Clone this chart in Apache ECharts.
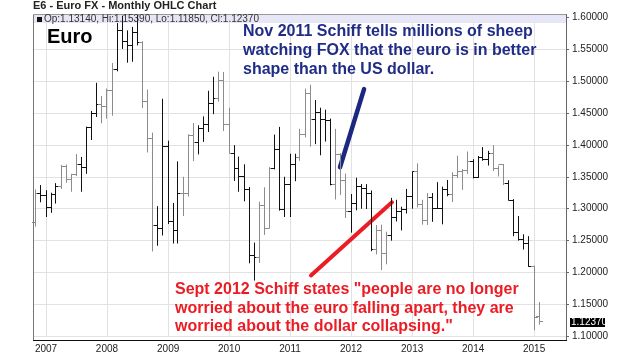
<!DOCTYPE html>
<html>
<head>
<meta charset="utf-8">
<script src="https://cdn.jsdelivr.net/npm/echarts@6/dist/echarts.min.js"></script>
<style>
html,body{margin:0;padding:0;background:#fff;}
#chart{width:636px;height:359px;}
</style>
</head>
<body>
<div id="chart"></div>
<script>
// ---- data ----
const months = [
  '2006-11','2006-12',
  '2007-01','2007-02','2007-03','2007-04','2007-05','2007-06','2007-07','2007-08','2007-09','2007-10','2007-11','2007-12',
  '2008-01','2008-02','2008-03','2008-04','2008-05','2008-06','2008-07','2008-08','2008-09','2008-10','2008-11','2008-12',
  '2009-01','2009-02','2009-03','2009-04','2009-05','2009-06','2009-07','2009-08','2009-09','2009-10','2009-11','2009-12',
  '2010-01','2010-02','2010-03','2010-04','2010-05','2010-06','2010-07','2010-08','2010-09','2010-10','2010-11','2010-12',
  '2011-01','2011-02','2011-03','2011-04','2011-05','2011-06','2011-07','2011-08','2011-09','2011-10','2011-11','2011-12',
  '2012-01','2012-02','2012-03','2012-04','2012-05','2012-06','2012-07','2012-08','2012-09','2012-10','2012-11','2012-12',
  '2013-01','2013-02','2013-03','2013-04','2013-05','2013-06','2013-07','2013-08','2013-09','2013-10','2013-11','2013-12',
  '2014-01','2014-02','2014-03','2014-04','2014-05','2014-06','2014-07','2014-08','2014-09','2014-10','2014-11','2014-12',
  '2015-01','2015-02'
];
const openVals = [
  1.2780,1.3235,
  1.3200,1.3025,1.3230,1.3355,1.3655,1.3455,1.3530,1.3685,1.3640,1.4270,1.4490,1.4630,
  1.4595,1.4845,1.5185,1.5785,1.5615,1.5550,1.5755,1.5605,1.4675,1.4095,1.2730,1.2695,
  1.3970,1.2805,1.2665,1.3245,1.3240,1.4150,1.4035,1.4250,1.4325,1.4640,1.4725,1.5010,
  1.4320,1.3865,1.3625,1.3510,1.3295,1.2270,1.2235,1.3050,1.2690,1.3625,1.3925,1.2980,
  1.3380,1.3690,1.3805,1.4160,1.4805,1.4400,1.4500,1.4395,1.4375,1.3385,1.3855,1.3445,
  1.2960,1.3080,1.3345,1.3320,1.3240,1.2365,1.2665,1.2300,1.2580,1.2860,1.2960,1.2985,
  1.3195,1.3580,1.3060,1.2820,1.3170,1.3005,1.3010,1.3300,1.3225,1.3525,1.3585,1.3590,
  1.3745,1.3485,1.3800,1.3770,1.3865,1.3635,1.3690,1.3390,1.3130,1.2630,1.2525,1.2450,
  1.2100,1.1314
];
const highVals = [
  1.3300,1.3370,
  1.3290,1.3250,1.3400,1.3685,1.3690,1.3545,1.3855,1.3810,1.4285,1.4530,1.4970,1.4765,
  1.4880,1.5280,1.5905,1.6020,1.5790,1.5845,1.6040,1.5620,1.4865,1.4190,1.3040,1.4720,
  1.4065,1.3090,1.3740,1.3500,1.4165,1.4340,1.4305,1.4445,1.4845,1.5065,1.5145,1.5140,
  1.4580,1.3995,1.3815,1.3695,1.3340,1.2470,1.3110,1.3335,1.3650,1.4160,1.4280,1.3500,
  1.3860,1.3860,1.4250,1.4880,1.4940,1.4700,1.4580,1.4550,1.4410,1.4250,1.3870,1.3550,
  1.3230,1.3485,1.3385,1.3385,1.3285,1.2745,1.2750,1.2640,1.3170,1.3140,1.3030,1.3310,
  1.3585,1.3710,1.3140,1.3245,1.3245,1.3415,1.3345,1.3450,1.3570,1.3830,1.3620,1.3895,
  1.3775,1.3825,1.3965,1.3905,1.3995,1.3675,1.3700,1.3445,1.3150,1.2885,1.2600,1.2570,
  1.2110,1.1539
];
const lowVals = [
  1.2720,1.3100,
  1.2870,1.2935,1.3080,1.3310,1.3405,1.3265,1.3510,1.3265,1.3545,1.4075,1.4435,1.4335,
  1.4410,1.4455,1.5150,1.5500,1.5285,1.5300,1.5555,1.4575,1.3880,1.2330,1.2420,1.2580,
  1.2760,1.2455,1.2455,1.2885,1.3190,1.3745,1.3850,1.4045,1.4200,1.4480,1.4675,1.4215,
  1.3860,1.3435,1.3265,1.3115,1.2145,1.1875,1.2150,1.2590,1.2690,1.3615,1.2970,1.2870,
  1.2870,1.3430,1.3750,1.4115,1.3970,1.4010,1.3835,1.4050,1.3365,1.3145,1.3215,1.2855,
  1.2625,1.2975,1.3000,1.2995,1.2335,1.2285,1.2040,1.2130,1.2500,1.2800,1.2660,1.2925,
  1.3000,1.3020,1.2750,1.2745,1.2795,1.2995,1.2755,1.3195,1.3105,1.3480,1.3295,1.3545,
  1.3475,1.3480,1.3750,1.3675,1.3590,1.3505,1.3370,1.3130,1.2570,1.2500,1.2360,1.2090,
  1.1100,1.1185
];
const closeVals = [
  1.3235,1.3200,
  1.3025,1.3230,1.3355,1.3655,1.3455,1.3530,1.3685,1.3640,1.4270,1.4490,1.4630,1.4595,
  1.4845,1.5185,1.5785,1.5615,1.5550,1.5755,1.5605,1.4675,1.4095,1.2730,1.2695,1.3970,
  1.2805,1.2665,1.3245,1.3240,1.4150,1.4035,1.4250,1.4325,1.4640,1.4725,1.5010,1.4320,
  1.3865,1.3625,1.3510,1.3295,1.2270,1.2235,1.3050,1.2690,1.3625,1.3925,1.2980,1.3380,
  1.3690,1.3805,1.4160,1.4805,1.4400,1.4500,1.4395,1.4375,1.3385,1.3855,1.3445,1.2960,
  1.3080,1.3345,1.3320,1.3240,1.2365,1.2665,1.2300,1.2580,1.2860,1.2960,1.2985,1.3195,
  1.3580,1.3060,1.2820,1.3170,1.3005,1.3010,1.3300,1.3225,1.3525,1.3585,1.3590,1.3745,
  1.3485,1.3800,1.3770,1.3865,1.3635,1.3690,1.3390,1.3130,1.2630,1.2525,1.2450,1.2100,
  1.1290,1.1237
];
const yTicks = ['1.10000','1.15000','1.20000','1.25000','1.30000','1.35000','1.40000','1.45000','1.50000','1.55000','1.60000'];
const headerText = 'Op:1.13140, Hi:1.15390, Lo:1.11850, Cl:1.12370';
const lastClose = 1.12370;
const lastCloseText = '1.12370';
// annotation segments in data space [date, price]
const blueSeg = [['2011-10-27', 1.3649], ['2012-03-19', 1.4871]];
const redSeg = [['2011-05-06', 1.1956], ['2012-09-02', 1.3100]];

// ---- chart ----
const ohlc = months.map((m, i) => [m + '-01', openVals[i], highVals[i], lowVals[i], closeVals[i]]);
const narrow = '"Liberation Sans Narrow", "Arial Narrow", "Liberation Sans", sans-serif';
const sans = '"Liberation Sans", Arial, sans-serif';

function snap(v) { return Math.round(v - 0.5) + 0.5; }
// the reference bars alternate between black and grey in soft runs
function barColor(i) {
  const p = (i - 6.5) / 7.7;
  const d = Math.abs(p - Math.round(p)) * 7.7;
  return d <= 1.5 ? '#8c8c8c' : '#111';
}

function renderItem(params, api) {
  const x = api.value(0);
  const o = api.coord([x, api.value(1)]);
  const h = api.coord([x, api.value(2)]);
  const l = api.coord([x, api.value(3)]);
  const c = api.coord([x, api.value(4)]);
  const px = snap(h[0]);
  const w = 3;
  const style = { stroke: barColor(params.dataIndex), lineWidth: 1 };
  return {
    type: 'group',
    children: [
      { type: 'line', shape: { x1: px, y1: h[1], x2: px, y2: l[1] }, style: style },
      { type: 'line', shape: { x1: px - w - 0.5, y1: snap(o[1]), x2: px, y2: snap(o[1]) }, style: style },
      { type: 'line', shape: { x1: px, y1: snap(c[1]), x2: px + w + 0.5, y2: snap(c[1]) }, style: style }
    ]
  };
}

const chart = echarts.init(document.getElementById('chart'), null, { renderer: 'canvas' });
chart.setOption({
  animation: false,
  backgroundColor: '#fff',
  grid: { left: 33, right: 70, top: 17, bottom: 22.5, containLabel: false },
  xAxis: {
    type: 'time',
    min: '2006-10-15',
    max: '2015-07-11',
    splitNumber: 10,
    offset: 3.5,
    axisLine: { show: false },
    axisTick: { show: false },
    axisLabel: {
      margin: 4,
      fontSize: 10,
      fontFamily: narrow,
      color: '#222',
      showMinLabel: false,
      showMaxLabel: false,
      formatter: function (v) {
        const d = new Date(v);
        return (d.getMonth() === 0 && d.getDate() === 1) ? String(d.getFullYear()) : '';
      }
    },
    splitLine: { show: true, lineStyle: { color: '#e2e2e2', width: 1 } }
  },
  yAxis: {
    type: 'value',
    position: 'right',
    min: 1.10,
    max: 1.60,
    interval: 0.05,
    axisLine: { show: false },
    axisTick: { show: true, length: 3, lineStyle: { color: '#666' } },
    axisLabel: {
      margin: 6,
      fontSize: 10,
      fontFamily: narrow,
      color: '#222',
      formatter: function (v) {
        const idx = Math.round((v - 1.10) / 0.05);
        return yTicks[idx] || '';
      }
    },
    splitLine: { show: true, lineStyle: { color: '#e2e2e2', width: 1 } }
  },
  series: [{
    type: 'custom',
    renderItem: renderItem,
    data: ohlc,
    encode: { x: 0, y: [1, 2, 3, 4] },
    clip: false,
    z: 5,
    markLine: {
      silent: true,
      symbol: ['none', 'none'],
      animation: false,
      data: [
        [
          { coord: blueSeg[0], lineStyle: { color: '#1c2880', width: 4.5, type: 'solid', cap: 'round' }, label: { show: false } },
          { coord: blueSeg[1] }
        ],
        [
          { coord: redSeg[0], lineStyle: { color: '#ec1c24', width: 4, type: 'solid', cap: 'round' }, label: { show: false } },
          { coord: redSeg[1] }
        ]
      ]
    }
  }],
  graphic: [
    { id: 'band', type: 'rect', z: 1, shape: { x: 33, y: 14, width: 533, height: 9 }, style: { fill: '#e6e6f7' } },
    { id: 'sq', type: 'rect', z: 20, shape: { x: 37, y: 17, width: 5, height: 5 }, style: { fill: '#111' } },
    { id: 'hdr', type: 'text', z: 20, x: 44, y: 19, style: { text: headerText, font: '10px ' + narrow, fill: '#333', verticalAlign: 'middle' } },
    { id: 'fl', type: 'line', z: 15, shape: { x1: 33.5, y1: 14, x2: 33.5, y2: 340 }, style: { stroke: '#777', lineWidth: 1 } },
    { id: 'ft', type: 'line', z: 15, shape: { x1: 33, y1: 14.5, x2: 566, y2: 14.5 }, style: { stroke: '#999', lineWidth: 1 } },
    { id: 'fr', type: 'line', z: 15, shape: { x1: 566.5, y1: 14, x2: 566.5, y2: 341 }, style: { stroke: '#666', lineWidth: 1 } },
    { id: 'fb', type: 'line', z: 15, shape: { x1: 33, y1: 340.5, x2: 567, y2: 340.5 }, style: { stroke: '#111', lineWidth: 1 } },
    { id: 'title', type: 'text', z: 20, x: 33, y: 6, style: { text: 'E6 - Euro FX - Monthly OHLC Chart', font: 'bold 11px ' + sans, fill: '#222', verticalAlign: 'middle' } },
    { id: 'euro', type: 'text', z: 20, x: 47, y: 37, style: { text: 'Euro', font: 'bold 20px ' + sans, fill: '#000', verticalAlign: 'middle' } },
    { id: 'blue', type: 'text', z: 20, x: 243, y: 22.5, style: { text: 'Nov 2011 Schiff tells millions of sheep\nwatching FOX that the euro is in better\nshape than the US dollar.', font: 'bold 16px ' + sans, fill: '#1f2d86', lineHeight: 19, verticalAlign: 'top' } },
    { id: 'red', type: 'text', z: 20, x: 175, y: 280.5, style: { text: 'Sept 2012 Schiff states "people are no longer\nworried about the euro falling apart, they are\nworried about the dollar collapsing."', font: 'bold 16px ' + sans, fill: '#ec1c24', lineHeight: 18.5, verticalAlign: 'top' } }
  ]
});

// last-price box on the price axis, positioned through the y scale
const yLast = chart.convertToPixel({ yAxisIndex: 0 }, lastClose);
chart.setOption({
  graphic: [
    { id: 'lastBox', type: 'rect', z: 20, shape: { x: 570, y: Math.round(yLast) - 3, width: 35, height: 9 }, style: { fill: '#000' } },
    { id: 'lastTxt', type: 'text', z: 21, x: 571, y: Math.round(yLast) + 1.5, style: { text: lastCloseText, font: '10px ' + narrow, fill: '#fff', verticalAlign: 'middle' } }
  ]
});
</script>
</body>
</html>
